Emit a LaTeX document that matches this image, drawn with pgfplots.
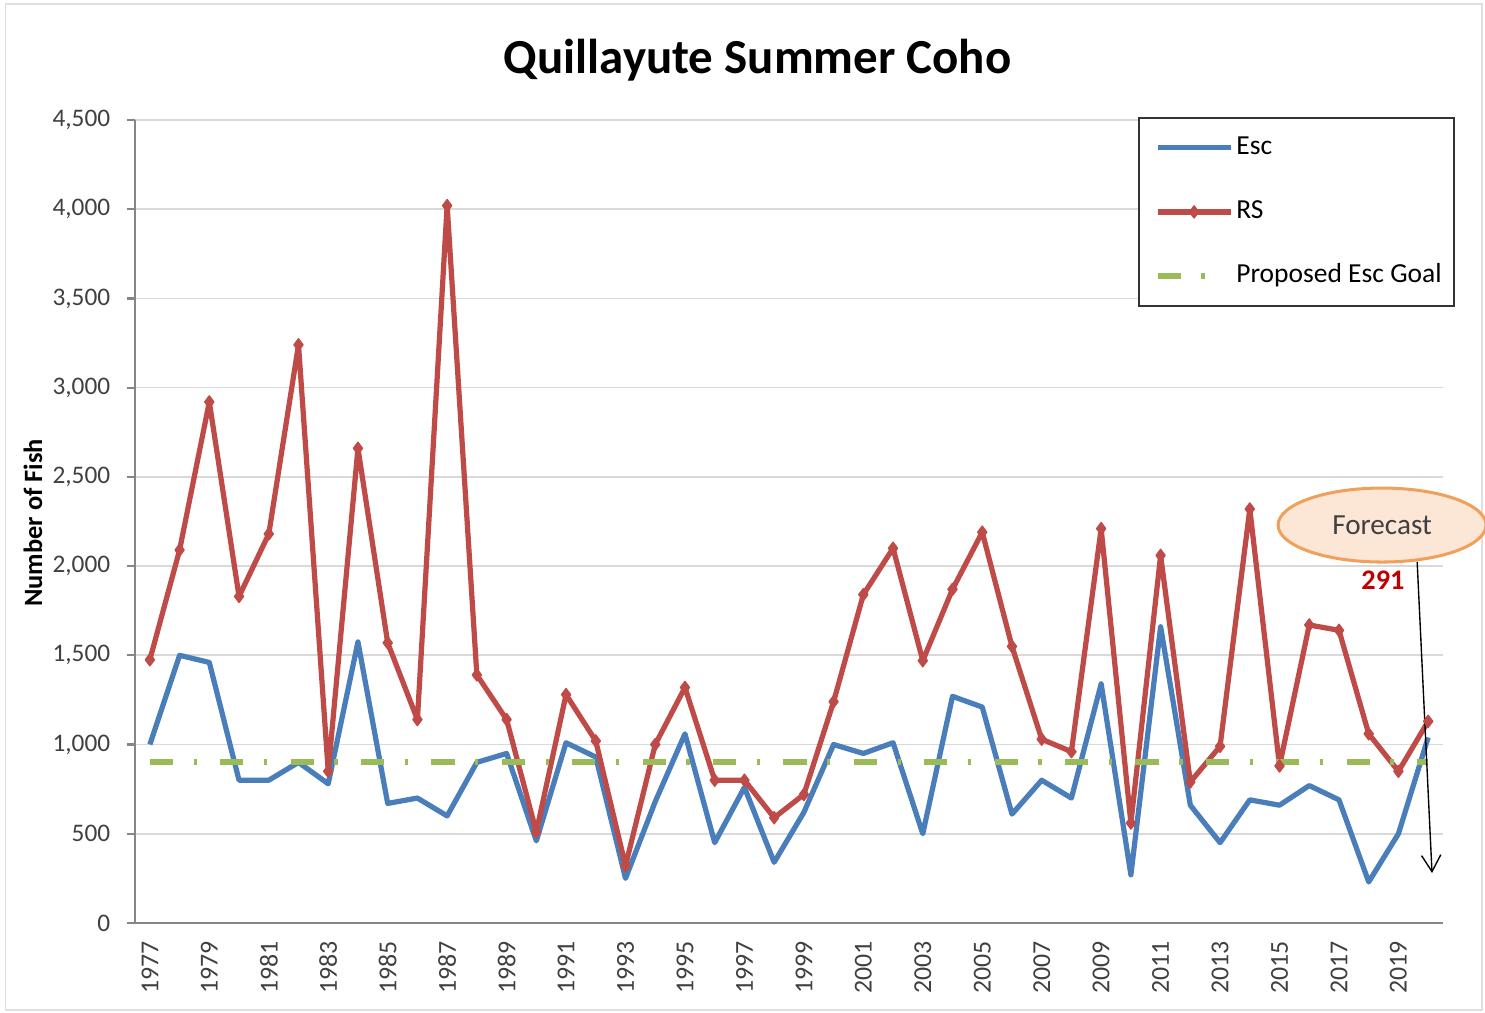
\documentclass[border=0pt]{standalone}
\usepackage{pgfplots}
\pgfplotsset{compat=1.18}
\usepackage{fontspec}
\setmainfont{Carlito}
\usetikzlibrary{arrows.meta}
\definecolor{escblue}{RGB}{74,126,187}
\definecolor{rsred}{RGB}{190,75,72}
\definecolor{goalgreen}{RGB}{155,187,89}
\definecolor{gridgray}{RGB}{217,217,217}
\definecolor{axisgray}{RGB}{134,134,134}
\definecolor{ticktext}{RGB}{64,64,64}
\definecolor{ellfill}{RGB}{252,230,214}
\definecolor{elldraw}{RGB}{240,160,90}
\definecolor{darkred}{RGB}{192,0,0}
\pgfplotsset{goalimg/.style={legend image code/.code={\path (-2.2pt,0pt) (26.5pt,0pt); \draw[##1] (0pt,0pt) -- (17.4pt,0pt);}}}
\begin{document}
\begin{tikzpicture}
\useasboundingbox (0,0) rectangle (540pt,368.36pt);
\draw[gray!25, line width=0.6pt] (2pt,1pt) rectangle (539pt,367pt);
\node[font=\bfseries\fontsize{17.8}{20}\selectfont] at (275.5pt,346.3pt) {Quillayute Summer Coho};
\node[font=\bfseries\fontsize{9.6}{11}\selectfont, rotate=90] at (12pt,178.2pt) {Number of Fish};
\begin{axis}[
  at={(49.09pt,32.73pt)}, anchor=south west,
  scale only axis, width=475.64pt, height=292pt,
  xmin=1976.5, xmax=2020.5, ymin=0, ymax=4500,
  axis lines=left, axis line style={-, axisgray, line width=0.8pt},
  ytick={0,500,...,4500},
  ymajorgrids, grid style={gridgray, line width=0.6pt},
  yticklabel style={font=\fontsize{9.2}{11}\selectfont, text=ticktext, xshift=-2.5pt},
  /pgf/number format/assume math mode=true,
  /pgf/number format/.cd, 1000 sep={,}, /pgfplots/.cd,
  y tick style={axisgray, line width=0.8pt},
  major tick length=3pt,
  ytick align=outside,
  xtick={1977,1979,...,2019},
  xticklabels={1977,1979,1981,1983,1985,1987,1989,1991,1993,1995,1997,1999,2001,2003,2005,2007,2009,2011,2013,2015,2017,2019},
  x tick style={draw=none},
  minor xtick={1976.5,1977.5,...,2020.5},
  minor x tick style={axisgray, line width=0.8pt},
  minor tick length=3pt,
  xtick align=outside,
  xticklabel style={rotate=90, anchor=east, font=\fontsize{9.4}{11}\selectfont, text=ticktext},
  clip=false,
  legend style={at={(1.009,1.004)}, anchor=north east, draw=black!80, line width=0.8pt,
    fill=white, font=\fontsize{10}{12}\selectfont, row sep=12.3pt, column sep=0pt,
    inner xsep=3.4pt, inner ysep=5.4pt,
    nodes={inner xsep=1pt, inner ysep=1pt, text height=7pt, text depth=2pt},
    cells={anchor=west}},
  legend cell align=left,
  legend image code/.code={\path (-2.2pt,0pt); \draw[mark repeat=2,mark phase=2,#1] plot coordinates {(0pt,0pt)(13.25pt,0pt)(26.5pt,0pt)};},
]
\addplot[escblue, line width=1.9pt, line join=round, mark=none] coordinates {
(1977,1000)(1978,1500)(1979,1460)(1980,800)(1981,800)(1982,900)(1983,780)(1984,1575)
(1985,670)(1986,700)(1987,600)(1988,900)(1989,950)(1990,460)(1991,1010)(1992,930)
(1993,250)(1994,680)(1995,1060)(1996,450)(1997,760)(1998,340)(1999,620)(2000,1000)
(2001,950)(2002,1010)(2003,500)(2004,1270)(2005,1210)(2006,610)(2007,800)(2008,700)
(2009,1340)(2010,270)(2011,1660)(2012,660)(2013,450)(2014,690)(2015,660)(2016,770)
(2017,690)(2018,230)(2019,500)(2020,1040)};
\addlegendentry{Esc}
\addplot[rsred, line width=1.9pt, line join=round, mark=diamond*, mark size=2.2pt, mark options={solid, fill=rsred, line width=0.5pt}] coordinates {
(1977,1475)(1978,2090)(1979,2920)(1980,1830)(1981,2180)(1982,3240)(1983,850)(1984,2660)
(1985,1570)(1986,1140)(1987,4020)(1988,1390)(1989,1140)(1990,510)(1991,1280)(1992,1020)
(1993,320)(1994,1000)(1995,1320)(1996,800)(1997,800)(1998,590)(1999,720)(2000,1240)
(2001,1840)(2002,2100)(2003,1470)(2004,1870)(2005,2190)(2006,1550)(2007,1030)(2008,960)
(2009,2210)(2010,560)(2011,2060)(2012,790)(2013,990)(2014,2320)(2015,880)(2016,1670)
(2017,1640)(2018,1060)(2019,850)(2020,1130)};
\addlegendentry{RS}
\addplot[goalgreen, line width=2.2pt, mark=none, dash pattern=on 8.4pt off 7.5pt on 1.2pt off 8.5pt, goalimg] coordinates {
(1977,900)(2020,900)};
\addlegendentry{Proposed Esc Goal}
\draw[elldraw, fill=ellfill, line width=1.1pt] (axis cs:2018.45,2230) ellipse [x radius=37.8pt, y radius=13.45pt];
\node[font=\fontsize{10.6}{12}\selectfont, text=ticktext] at (axis cs:2018.45,2230) {Forecast};
\node[font=\bfseries\fontsize{10.3}{12}\selectfont, text=darkred] at (axis cs:2018.48,1922) {291};
\draw[black, line width=0.5pt, -{Straight Barb[length=6pt,width=7pt]}] (axis cs:2019.63,2023) -- (axis cs:2020.13,280);
\end{axis}
\end{tikzpicture}
\end{document}
